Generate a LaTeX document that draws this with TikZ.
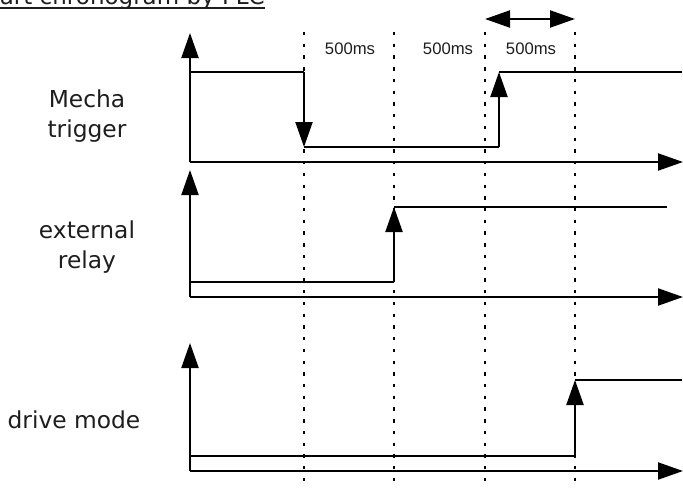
\documentclass[tikz,border=0pt]{standalone}
\usepackage{fontspec}
\setmainfont{DejaVu Sans}
\newfontfamily\msfont{Liberation Sans}
\usetikzlibrary{arrows.meta}

\definecolor{ctext}{RGB}{30,30,30}
\definecolor{cline}{RGB}{0,0,0}

\begin{document}
\begin{tikzpicture}[x=0.75pt, y=-0.75pt,
  lab/.style={align=center, text=ctext, inner sep=0pt,
              font=\fontsize{17.5}{22.5}\selectfont},
  ms/.style={text=ctext, inner sep=0pt, font=\msfont\fontsize{12.5}{14}\selectfont},
  axis/.style={-{Triangle[length=18.75pt, width=12.75pt]}, cline, line width=1.6pt},
  sig/.style={cline, line width=1.6pt},
  edge/.style={-{Triangle[length=18.75pt, width=12.75pt]}, cline, line width=1.6pt},
  tick/.style={cline, line width=1.5pt, dash pattern=on 2.5pt off 6.3pt},
]
\useasboundingbox (0,0) rectangle (683,489);

% --- title (runs off the top left corner) ------------------------------
\node[anchor=base west, inner sep=0pt, text=ctext,
      font=\fontsize{17.25}{20}\selectfont] (title) at (-24,5)
  {Start chronogram by PLC};
\draw[ctext, line width=1.1pt] ([yshift=-2.2pt]title.base west)
  -- ([yshift=-2.2pt]title.base east);

% --- time marks ---------------------------------------------------------
\foreach \t in {304,394,485,575}
  \draw[tick] (\t,32) -- (\t,484);
\node[ms] (ma) at (350,49) {500ms};
\node[ms] (mb) at (448,49) {500ms};
\node[ms] (mc) at (531,49) {500ms};
\draw[{Triangle[length=18.75pt, width=12.75pt]}-{Triangle[length=18.75pt, width=12.75pt]},
      cline, line width=1.6pt] (485,19) -- (575,19);

% --- Mecha trigger ------------------------------------------------------
\node[lab] (mecha) at (87,116) {Mecha\\trigger};
\draw[axis] (190,162) -- (190,33);
\draw[axis] (190,162) -- (683,162);
\draw[sig] (190,72) -- (304,72);
\draw[edge] (304,72) -- (304,147);
\draw[sig] (304,147) -- (499,147);
\draw[edge] (499,147) -- (499,72);
\draw[sig] (499,72) -- (682,72);

% --- external relay -----------------------------------------------------
\node[lab] (relay) at (87,247) {external\\relay};
\draw[axis] (190,297) -- (190,170);
\draw[axis] (190,297) -- (683,297);
\draw[sig] (190,282) -- (394,282);
\draw[edge] (394,282) -- (394,207);
\draw[sig] (394,207) -- (667,207);

% --- drive mode ---------------------------------------------------------
\node[lab, anchor=base] (drive) at (74,428) {drive mode};
\draw[axis] (190,471) -- (190,343);
\draw[axis] (190,471) -- (683,471);
\draw[sig] (190,456) -- (575,456);
\draw[edge] (575,456) -- (575,380);
\draw[sig] (575,380) -- (682,380);
\end{tikzpicture}
\end{document}
